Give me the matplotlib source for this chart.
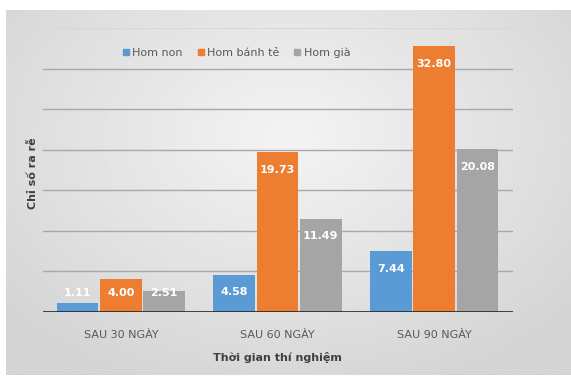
import numpy as np
import matplotlib
matplotlib.use("Agg")
import matplotlib.pyplot as plt
from matplotlib.lines import Line2D

categories = ["SAU 30 NGÀY", "SAU 60 NGÀY", "SAU 90 NGÀY"]
series_names = ["Hom non", "Hom bánh tẻ", "Hom già"]
hom_non = [1.11, 4.58, 7.44]
hom_banh_te = [4.00, 19.73, 32.80]
hom_gia = [2.51, 11.49, 20.08]
colors = ["#5b9bd5", "#ed7d31", "#a5a5a5"]

W, H = 571, 383
fig = plt.figure(figsize=(W / 100, H / 100), dpi=100)
fig.patch.set_facecolor("white")

# background gradient panel
bg = fig.add_axes([6 / W, 8 / H, 1 - 6 / W, 1 - 18 / H])
yy, xx = np.mgrid[-1:1:200j, -1:1:300j]
r = np.sqrt(xx ** 2 + ((yy + 0.3) * 0.9) ** 2)
img = 0.955 - 0.12 * np.clip(r / 1.3, 0, 1)
bg.imshow(img, cmap="gray", vmin=0, vmax=1, aspect="auto", extent=[0, 1, 0, 1])
bg.set_axis_off()

ax = fig.add_axes([42.5 / W, (H - 311.7) / H, 470 / W, (311.7 - 28.2) / H])
ax.patch.set_alpha(0)
x = np.arange(len(categories))
width = 0.265
offs = [-0.277, 0, 0.277]
data = [hom_non, hom_banh_te, hom_gia]
for vals, c, o, name in zip(data, colors, offs, series_names):
    ax.bar(x + o, vals, width, color=c, label=name, zorder=3)
    for xi, v in zip(x + o, vals):
        ax.text(xi, max(v - 2.2, 2.3), f"{v:.2f}", ha="center", va="center",
                color="white", fontsize=8, fontweight="bold", zorder=4)

ax.set_xlim(-0.5, 2.5)
ax.set_ylim(0, 35)
for g in range(5, 31, 5):
    ax.axhline(g, color="#a8a8a8", lw=1, zorder=1)
ax.axhline(35, color="#d8d8d8", lw=1, zorder=1)
ax.axhline(0, color="#262626", lw=1.2, zorder=5)
for s in ax.spines.values():
    s.set_visible(False)
ax.set_yticks([])
ax.set_xticks(x)
ax.set_xticklabels(categories, fontsize=8, color="#595959")
ax.tick_params(axis="x", length=0, pad=13)
ax.set_xlabel("Thời gian thí nghiệm", fontsize=8, fontweight="bold", color="#404040", labelpad=9)
fig.text(33 / W, 1 - 173 / H, "Chỉ số ra rễ", rotation=90, ha="center", va="center",
         fontsize=8, fontweight="bold", color="#404040")

handles = [Line2D([], [], marker="s", ls="", color=c, markersize=4) for c in colors]
fig.legend(handles, series_names, loc="center", bbox_to_anchor=(236 / W, 1 - 53 / H),
           ncol=3, frameon=False, fontsize=8, labelcolor="#595959",
           handlelength=0.7, handletextpad=0.2, columnspacing=1.3)

fig.savefig("out.png", dpi=100)
